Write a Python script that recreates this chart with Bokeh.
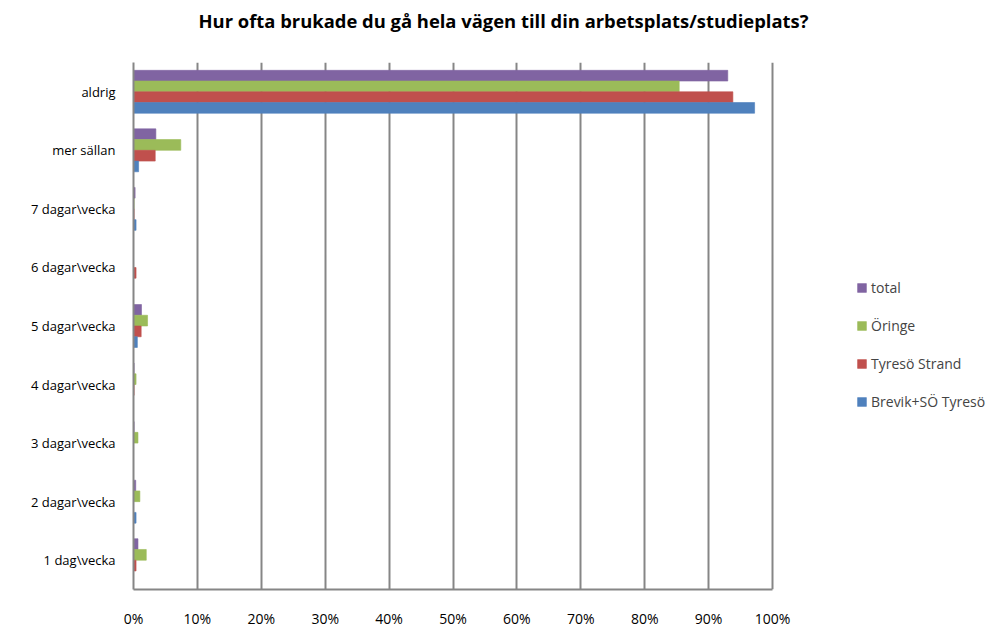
from bokeh.plotting import figure
from bokeh.models import ColumnDataSource, FactorRange, Range1d, Legend, LegendItem, FixedTicker, NumeralTickFormatter
from bokeh.transform import dodge
from bokeh.embed import file_html
from bokeh.resources import INLINE

categories = ["aldrig", "mer sällan", "7 dagar\\vecka", "6 dagar\\vecka", "5 dagar\\vecka",
              "4 dagar\\vecka", "3 dagar\\vecka", "2 dagar\\vecka", "1 dag\\vecka"]
total = [93.0, 3.5, 0.25, 0.0, 1.25, 0.1, 0.1, 0.35, 0.7]
oringe = [85.4, 7.4, 0.1, 0.0, 2.2, 0.4, 0.7, 1.0, 2.0]
tyreso_strand = [93.8, 3.4, 0.1, 0.4, 1.2, 0.1, 0.0, 0.0, 0.4]
brevik = [97.2, 0.8, 0.4, 0.0, 0.6, 0.0, 0.0, 0.4, 0.0]
series_names = ["total", "Öringe", "Tyresö Strand", "Brevik+SÖ Tyresö"]
colors = ["#8064A2", "#9BBB59", "#C0504D", "#4F81BD"]

src = ColumnDataSource(dict(
    cat=categories,
    total=[v / 100 for v in total],
    oringe=[v / 100 for v in oringe],
    tyreso=[v / 100 for v in tyreso_strand],
    brevik=[v / 100 for v in brevik],
))

FONT = "Open Sans"

# layout: the 0-100% span is 639 px wide; the frame extends further right to host the legend
W, H = 987, 630
LEFT, TOP, BOTTOM = 133, 60, 30
SPAN_PX = 639
frame_w = W - LEFT
x_end = frame_w / SPAN_PX

p = figure(width=W, height=H, output_backend="svg", toolbar_location=None,
           y_range=FactorRange(*reversed(categories), range_padding=0),
           x_range=Range1d(0, x_end),
           min_border_left=LEFT, min_border_right=0, min_border_top=TOP, min_border_bottom=BOTTOM)

bh = 0.183
offsets = [0.275, 0.092, -0.092, -0.275]
cols = ["total", "oringe", "tyreso", "brevik"]
renderers = []
for c, off, col in zip(cols, offsets, colors):
    r = p.hbar(y=dodge("cat", off, range=p.y_range), right=c, left=0, height=bh,
               source=src, fill_color=col, line_color=col, line_alpha=0.6)
    renderers.append(r)

# trailing blank line lifts the title line away from the plot frame
p.title.text = "Hur ofta brukade du gå hela vägen till din arbetsplats/studieplats?\n "
p.title.text_font = FONT
p.title.text_font_style = "bold"
p.title.text_font_size = "18.4px"
p.title.align = "left"
p.title.offset = 65
p.title.text_color = "#000000"

p.xaxis.ticker = FixedTicker(ticks=[i / 10 for i in range(11)])
p.xaxis.formatter = NumeralTickFormatter(format="0%")
p.xaxis.bounds = (0, 1)
for ax in (p.xaxis[0], p.yaxis[0]):
    ax.axis_line_color = "#868686"
    ax.axis_line_width = 2
    ax.major_tick_line_color = None
    ax.minor_tick_line_color = None
    ax.major_label_text_font = FONT
    ax.major_label_text_color = "#000000"
p.xaxis.major_label_text_font_size = "14px"
p.yaxis.major_label_text_font_size = "13px"
p.xaxis.major_label_standoff = 13
p.yaxis.major_label_standoff = 12

p.xgrid.grid_line_color = "#868686"
p.xgrid.grid_line_width = 2
p.ygrid.grid_line_color = None
p.outline_line_color = None

items = [LegendItem(label=n, renderers=[r]) for n, r in zip(series_names, renderers)]
legend = Legend(items=items, location=(723, 178), orientation="vertical",
                glyph_width=11, glyph_height=11, label_height=20, spacing=18,
                padding=0, margin=0, border_line_color=None, background_fill_alpha=0,
                label_text_font=FONT, label_text_font_size="14px", label_standoff=4)
p.add_layout(legend, "center")

open("out.html", "w").write(file_html(p, INLINE))
